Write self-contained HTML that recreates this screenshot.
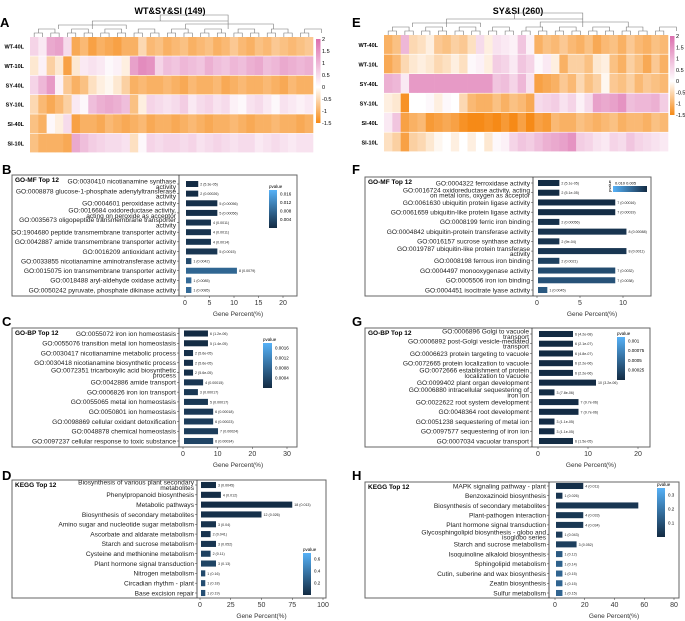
<!DOCTYPE html>
<html><head><meta charset="utf-8"><style>
html,body{margin:0;padding:0;background:#fff}
svg{display:block;font-family:"Liberation Sans",Arial,sans-serif}
</style></head><body>
<svg id="fig" width="685" height="621" viewBox="0 0 685 621" xmlns="http://www.w3.org/2000/svg">
<g font-weight="bold" font-size="13">
<text x="0" y="27">A</text><text x="352" y="27">E</text>
<text x="2" y="174">B</text><text x="352" y="174">F</text>
<text x="2" y="326">C</text><text x="352" y="326">G</text>
<text x="2" y="480">D</text><text x="352" y="480">H</text>
</g>
<text x="170" y="14" font-size="9" font-weight="bold" text-anchor="middle">WT&amp;SY&amp;SI (149)</text>
<text x="518" y="14" font-size="9" font-weight="bold" text-anchor="middle">SY&amp;SI (260)</text>
</svg>
<script>
const rowNames=["WT-40L","WT-10L","SY-40L","SY-10L","SI-40L","SI-10L"];
const heatA=[
[0.6,0.3,1.2,1.3,0.5,-1.1,-0.9,-1.2,-1.0,-1.1,-1.2,-1.0,-1.0,-0.5,-0.9,-0.8,-1.0,-0.9,-0.8,-1.0,-0.9,-0.8,-1.0,-0.9,-0.7,-0.9,-1.0,-0.8,-0.9,-0.7,-0.8,-0.9,-0.8,-0.7],
[-0.3,0.2,-0.6,-0.3,-1.2,-0.3,0.3,0.4,0.3,0.1,0.2,-0.2,1.3,1.6,1.5,0.6,0.9,0.8,1.0,0.9,0.8,1.1,0.9,0.8,1.0,0.9,1.1,1.2,0.9,1.0,1.2,1.1,1.0,1.1],
[0.6,1.0,1.4,0.2,-0.7,-1.0,-0.8,-0.4,-0.2,-0.1,-0.3,-0.6,-1.0,-0.9,-1.0,-1.0,-0.9,-1.0,-1.1,-0.9,-1.0,-1.0,-0.9,-1.1,-1.0,-0.9,-1.0,-1.0,-0.9,-1.0,-1.1,-0.9,-1.0,-1.0],
[-0.5,-0.9,-1.1,-0.9,-0.6,0.3,0.1,0.9,1.1,1.2,1.1,0.9,-0.8,-0.2,0.6,0.5,0.4,0.5,0.7,0.3,0.5,0.6,0.4,0.5,0.2,0.1,0.4,0.5,0.3,0.1,0.4,0.3,0.2,0.3],
[-0.8,-1.0,0.1,-0.2,0.5,-1.2,-1.0,-1.0,-1.1,-0.9,-1.0,-1.1,-1.0,-0.9,-1.1,-1.0,-1.0,-1.1,-1.0,-0.9,-1.0,-1.1,-1.0,-1.0,-0.9,-1.0,-1.1,-1.0,-1.0,-0.9,-1.0,-1.0,-1.1,-1.0],
[-0.8,-1.0,-1.0,-1.0,-1.1,1.2,0.9,0.7,0.6,0.5,0.5,0.4,-0.4,0.1,0.6,0.5,0.6,0.6,0.5,0.6,0.4,0.5,0.6,0.5,0.4,0.5,0.5,0.3,0.4,0.5,0.4,0.3,0.4,0.4]];
const heatE=[
[-1.0,-0.8,1.0,-0.5,-0.4,-0.2,-0.7,-0.8,-0.6,-0.7,-0.4,0.5,-0.2,0.4,0.3,0.2,0.8,0.2,-1.0,-0.8,-0.9,-0.7,-0.9,-1.0,-0.8,-1.1,-0.9,-0.8,-1.0,-0.7,-0.9,-1.0,-0.8,-0.9],
[-1.1,-0.9,-0.5,-0.3,-0.2,-0.3,-0.5,-0.4,-0.2,-0.4,0.1,0.2,-0.2,0.7,0.6,0.3,0.8,0.6,0.1,0.3,-0.2,-1.0,-0.6,-0.6,-0.8,-0.3,-0.2,-0.8,-1.0,-0.6,-0.8,-1.1,-0.7,-1.0],
[1.1,1.0,0.3,1.4,1.4,1.4,1.4,1.4,1.4,1.4,1.4,1.4,1.4,0.8,0.9,0.6,1.0,0.4,-1.2,-1.1,-1.0,-0.7,-0.9,-0.5,-0.8,-0.6,-0.1,-0.7,-0.8,-0.6,-0.9,-0.7,-0.8,-0.9],
[-0.2,-0.3,-1.4,0.0,0.0,0.1,-0.2,0.1,0.0,-0.5,-0.9,-1.0,-1.0,-0.8,-1.0,-0.8,-0.9,-1.1,0.5,0.6,0.7,0.4,0.6,0.2,0.5,1.3,1.2,1.3,1.5,0.9,1.0,1.0,1.1,0.7],
[0.3,0.8,-1.2,-1.0,-0.9,-1.3,-1.2,-1.1,-1.2,-1.4,-1.5,-1.6,-1.4,-1.5,-1.3,-1.6,-1.2,-1.5,-1.2,-1.3,-0.9,-1.0,-1.0,-0.8,-0.9,-1.0,-0.9,-0.8,-1.0,-0.9,-0.9,-1.0,-0.8,-0.9],
[-0.4,-0.6,-1.2,-0.6,-0.5,-0.3,-0.1,0.0,-0.2,0.0,-0.2,0.0,-0.3,0.1,0.2,0.6,0.8,0.7,0.9,1.1,1.2,1.3,1.5,0.7,0.6,0.4,0.3,0.6,0.5,0.8,0.6,0.5,0.4,0.3]];
const heatTicks=["2","1.5","1","0.5","0","-0.5","-1","-1.5"];

// bar panels data
const bLabels=["GO:0030410 nicotianamine synthase\nactivity","GO:0008878 glucose-1-phosphate adenylyltransferase\nactivity","GO:0004601 peroxidase activity","GO:0016684 oxidoreductase activity,\nacting on peroxide as acceptor","GO:0035673 oligopeptide transmembrane transporter\nactivity","GO:1904680 peptide transmembrane transporter activity","GO:0042887 amide transmembrane transporter activity","GO:0016209 antioxidant activity","GO:0033855 nicotianamine aminotransferase activity","GO:0015075 ion transmembrane transporter activity","GO:0018488 aryl-aldehyde oxidase activity","GO:0050242 pyruvate, phosphate dikinase activity"];
const bValues=[2.7,2.7,6.6,6.6,5.3,5.3,5.3,6.6,1.3,10.6,1.3,1.3];
const bPvals=[0.000053,0.00026,0.00056,0.00056,0.0011,0.0011,0.0014,0.0015,0.0042,0.0079,0.0085,0.0085];
const bText=["2 (5.3e-05)","2 (0.00026)","5 (0.00056)","5 (0.00056)","4 (0.0011)","4 (0.0011)","4 (0.0014)","5 (0.0015)","1 (0.0042)","8 (0.0079)","1 (0.0085)","1 (0.0085)"];
const bTicks=[0,5,10,15,20];
const cLabels=["GO:0055072 iron ion homeostasis","GO:0055076 transition metal ion homeostasis","GO:0030417 nicotianamine metabolic process","GO:0030418 nicotianamine biosynthetic process","GO:0072351 tricarboxylic acid biosynthetic\nprocess","GO:0042886 amide transport","GO:0006826 iron ion transport","GO:0055065 metal ion homeostasis","GO:0050801 ion homeostasis","GO:0098869 cellular oxidant detoxification","GO:0048878 chemical homeostasis","GO:0097237 cellular response to toxic substance"];
const cValues=[7.2,7.2,2.9,2.9,2.9,5.8,4.3,7.2,8.7,8.7,10.1,8.7];
const cPvals=[0.0000012,0.000014,0.000056,0.000056,0.000056,0.00015,0.00017,0.00017,0.00018,0.00023,0.00024,0.00034];
const cText=["6 (1.2e-06)","5 (1.4e-05)","2 (5.6e-05)","2 (5.6e-05)","2 (5.6e-05)","4 (0.00015)","3 (0.00017)","5 (0.00017)","6 (0.00018)","6 (0.00023)","7 (0.00024)","6 (0.00034)"];
const cTicks=[0,10,20,30];
const dLabels=["Biosynthesis of various plant secondary\nmetabolites","Phenylpropanoid biosynthesis","Metabolic pathways","Biosynthesis of secondary metabolites","Amino sugar and nucleotide sugar metabolism","Ascorbate and aldarate metabolism","Starch and sucrose metabolism","Cysteine and methionine metabolism","Plant hormone signal transduction","Nitrogen metabolism","Circadian rhythm - plant","Base excision repair"];
const dValues=[13,17,75,50,13,8.6,13,8.6,13,4.3,4.3,4.3];
const dPvals=[0.0045,0.012,0.013,0.026,0.04,0.041,0.052,0.11,0.13,0.16,0.18,0.19];
const dText=["3 (0.0045)","4 (0.012)","18 (0.013)","12 (0.026)","3 (0.04)","2 (0.041)","3 (0.052)","2 (0.11)","3 (0.13)","1 (0.16)","1 (0.18)","1 (0.19)"];
const dTicks=[0,25,50,75,100];
const fLabels=["GO:0004322 ferroxidase activity","GO:0016724 oxidoreductase activity, acting\non metal ions, oxygen as acceptor","GO:0061630 ubiquitin protein ligase activity","GO:0061659 ubiquitin-like protein ligase activity","GO:0008199 ferric iron binding","GO:0004842 ubiquitin-protein transferase activity","GO:0016157 sucrose synthase activity","GO:0019787 ubiquitin-like protein transferase\nactivity","GO:0008198 ferrous iron binding","GO:0004497 monooxygenase activity","GO:0005506 iron ion binding","GO:0004451 isocitrate lyase activity"];
const fValues=[2.6,2.6,9.1,9.1,2.6,10.4,2.6,10.4,2.6,9.1,9.1,1.2];
const fPvals=[0.000051,0.000051,0.00016,0.00019,0.00056,0.00088,0.0009,0.0011,0.0021,0.0032,0.0038,0.0045];
const fText=["2 (5.1e-05)","2 (5.1e-05)","7 (0.00016)","7 (0.00019)","2 (0.00056)","8 (0.00088)","2 (9e-04)","8 (0.0011)","2 (0.0021)","7 (0.0032)","7 (0.0038)","1 (0.0045)"];
const fTicks=[0,5,10];
const gLabels=["GO:0006896 Golgi to vacuole\ntransport","GO:0006892 post-Golgi vesicle-mediated\ntransport","GO:0006623 protein targeting to vacuole","GO:0072665 protein localization to vacuole","GO:0072666 establishment of protein\nlocalization to vacuole","GO:0099402 plant organ development","GO:0006880 intracellular sequestering of\niron ion","GO:0022622 root system development","GO:0048364 root development","GO:0051238 sequestering of metal ion","GO:0097577 sequestering of iron ion","GO:0007034 vacuolar transport"];
const gValues=[7,7,7,7,7,11.6,3.3,8.1,8.1,3.3,3.3,7];
const gPvals=[4.2e-8,2.1e-7,4.8e-7,2.2e-6,2.2e-6,3.2e-6,7.8e-6,9.7e-6,9.7e-6,1.1e-5,1.1e-5,1.5e-5];
const gText=["6 (4.2e-08)","6 (2.1e-07)","6 (4.8e-07)","6 (2.2e-06)","6 (2.2e-06)","10 (3.2e-06)","3 (7.8e-06)","7 (9.7e-06)","7 (9.7e-06)","3 (1.1e-05)","3 (1.1e-05)","6 (1.5e-05)"];
const gTicks=[0,10,20];
const hLabels=["MAPK signaling pathway - plant","Benzoxazinoid biosynthesis","Biosynthesis of secondary metabolites","Plant-pathogen interaction","Plant hormone signal transduction","Glycosphingolipid biosynthesis - globo and\nisoglobo series","Starch and sucrose metabolism","Isoquinoline alkaloid biosynthesis","Sphingolipid metabolism","Cutin, suberine and wax biosynthesis","Zeatin biosynthesis","Sulfur metabolism"];
const hValues=[19,5,56,19,19,5,14.5,5,5,5,5,5];
const hPvals=[0.011,0.026,0.03,0.033,0.034,0.043,0.052,0.12,0.14,0.15,0.15,0.15];
const hText=["4 (0.011)","1 (0.026)","","4 (0.033)","4 (0.034)","1 (0.043)","3 (0.052)","1 (0.12)","1 (0.14)","1 (0.15)","1 (0.15)","1 (0.15)"];
const hTicks=[0,20,40,60,80];

const NS="http://www.w3.org/2000/svg";
const svg=document.getElementById('fig');
function mk(tag,attrs,parent,txt){const e=document.createElementNS(NS,tag);for(const k in attrs)e.setAttribute(k,attrs[k]);if(txt!==undefined)e.textContent=txt;(parent||svg).appendChild(e);return e;}
function mix(a,b,t){const p=s=>[1,3,5].map(i=>parseInt(s.substr(i,2),16));const A=p(a),B=p(b);return 'rgb('+A.map((v,i)=>Math.round(v+(B[i]-v)*t)).join(',')+')';}
function heatColor(v){if(v>=0)return mix('#ffffff','#dc6fae',Math.min(v/2,1));return mix('#ffffff','#f68a17',Math.min(-v/1.5,1));}

function heatmap(id,data,x0,x1,y0,y1,cbx,cby0,cby1){
  const g=mk('g',{});
  
  
  const nr=data.length,nc=data[0].length,cw=(x1-x0)/nc,rh=(y1-y0)/nr;
  data.forEach((row,r)=>{
    const lab=mk('text',{x:x0-6,y:y0+rh*r+rh/2+2,'font-size':5.5,'font-weight':'bold','text-anchor':'end'},g,rowNames[r]);
    
    
    row.forEach((v,c)=>{
      const cell=mk('rect',{x:x0+c*cw,y:y0+r*rh,width:cw+0.3,height:rh-0.6,fill:heatColor(v)},g);
      
      
    });
  });
  // dendrogram (decorative)
  const dg=mk('g',{stroke:'#777','stroke-width':0.6,fill:'none'},g);
  
  
  for(let c=0;c<nc;c+=2){const xa=x0+c*cw+cw/2,xb=xa+cw;mk('path',{d:`M${xa} ${y0} V${y0-4} H${xb} V${y0}`},dg);}
  for(let c=0;c<nc;c+=4){const xa=x0+c*cw+cw,xb=xa+2*cw;mk('path',{d:`M${xa} ${y0-4} V${y0-8} H${xb} V${y0-4}`},dg);}
  const mid=(x0+x1)/2;
  mk('path',{d:`M${x0+(x1-x0)*0.22} ${y0-8} V${y0-16} H${x0+(x1-x0)*0.7} V${y0-8} M${x0+(x1-x0)*0.1} ${y0-8} V${y0-12} H${x0+(x1-x0)*0.34} V${y0-8} M${x0+(x1-x0)*0.55} ${y0-8} V${y0-13} H${x0+(x1-x0)*0.86} V${y0-8} M${x0+(x1-x0)*0.46} ${y0-16} V${y0-22} H${x0+(x1-x0)*0.7} V${y0-16}`},dg);
  // colorbar
  const gid=id+'-grad';
  const defs=mk('defs',{},g);const lg=mk('linearGradient',{id:gid,x1:0,y1:0,x2:0,y2:1},defs);
  [2,1,0,-0.75,-1.5].forEach(v=>mk('stop',{offset:(2-v)/3.5,'stop-color':heatColor(v)},lg));
  const cb=mk('rect',{x:cbx,y:cby0,width:4.5,height:cby1-cby0,fill:`url(#${gid})`},g);
  
  
  heatTicks.forEach((t,i)=>{const v=parseFloat(t);const y=cby0+(2-v)/3.5*(cby1-cby0);
    const tt=mk('text',{x:cbx+6,y:y+2,'font-size':5.5},g,t);
    
    });
}
heatmap('heatmap-a',heatA,30,313,37,153,316,39,123);
heatmap('heatmap-e',heatE,384,668,35,152,670,36,115);

function barPanel(o){
  const g=mk('g',{});
  
  
  const box=mk('rect',{x:o.bx0,y:o.by0,width:o.bx1-o.bx0,height:o.by1-o.by0,fill:'none',stroke:'#666','stroke-width':1},g);
  
  
  mk('line',{x1:o.sep,x2:o.sep,y1:o.by0,y2:o.by1,stroke:'#333','stroke-width':0.8},g);
  const ttl=mk('text',{x:o.bx0+3,y:o.by0+7,'font-size':6.5,'font-weight':'bold'},g,o.title);
  
  
  const xs=v=>o.x0+(v-o.tmin)/(o.tmax-o.tmin)*(o.xmaxPx-o.x0);
  const n=o.labels.length,step=(o.ylast-o.yfirst)/(n-1),ys=i=>o.yfirst+i*step;
  const bh=step*0.62;
  o.labels.forEach((l,i)=>{
    const lines=l.split('\n');const y=ys(i);
    const t=mk('text',{'font-size':6.6,'text-anchor':'end',fill:'#222'},g);
    
    
    lines.forEach((ln,k)=>{mk('tspan',{x:o.sep-3,y:y+2.3+(k-(lines.length-1)/2)*5.2},t,ln);});
    mk('line',{x1:o.sep-2,x2:o.sep,y1:y,y2:y,stroke:'#333','stroke-width':0.5},g);
    const tcol=Math.min(o.p[i]/o.pmax,1);
    const bar=mk('rect',{x:o.x0+1,y:y-bh/2,width:Math.max(xs(o.values[i])-o.x0-1,0),height:bh,fill:mix('#132b43','#56b1f7',tcol)},g);
    
    
    if(o.txt[i]){const vt=mk('text',{x:xs(o.values[i])+2,y:y+1.5,'font-size':3.6,fill:'#222'},g,o.txt[i]);
      
      }
  });
  o.ticks.forEach(t=>{const x=xs(t);
    mk('line',{x1:x,x2:x,y1:o.by1,y2:o.by1+2,stroke:'#333','stroke-width':0.5},g);
    const tl=mk('text',{x:x,y:o.by1+9,'font-size':7,'text-anchor':'middle',fill:'#333'},g,t);
    
    });
  const xl=mk('text',{x:(o.sep+o.bx1)/2,y:o.by1+20,'font-size':6.5,'text-anchor':'middle',fill:'#333'},g,'Gene Percent(%)');
  
  
  // legend colorbar
  const gid=o.name+'-cb';const defs=mk('defs',{},g);
  const c=o.cb;
  const lg=mk('linearGradient',c.horiz?{id:gid,x1:0,y1:0,x2:1,y2:0}:{id:gid,x1:0,y1:0,x2:0,y2:1},defs);
  mk('stop',{offset:0,'stop-color':'#56b1f7'},lg);mk('stop',{offset:1,'stop-color':'#132b43'},lg);
  const lr=mk('rect',{x:c.x,y:c.y,width:c.w,height:c.h,fill:`url(#${gid})`},g);
  
  
  if(c.horiz){
    mk('text',{x:c.x+2,y:c.y-1.5,'font-size':4},g,'0.010  0.005');
    mk('text',{x:c.x-2,y:c.y+6,'font-size':4,transform:`rotate(-90 ${c.x-2} ${c.y+6})`},g,'pvalue');
  } else {
    mk('text',{x:c.x,y:c.y-2,'font-size':4.5},g,'pvalue');
    c.ticks.forEach(tk=>{const y=c.y+c.h*(1-tk/c.max);
      mk('text',{x:c.x+c.w+3,y:y+1.5,'font-size':4.5},g,String(tk));});
  }
}
barPanel({name:'panel-b-go-mf',title:'GO-MF Top 12',bx0:12,bx1:297,by0:175,by1:296,sep:179,x0:185,xmaxPx:283,tmin:0,tmax:20,yfirst:184,ylast:290,labels:bLabels,values:bValues,p:bPvals,pmax:0.018,txt:bText,ticks:bTicks,cb:{x:269,y:190,w:8,h:38,max:0.018,ticks:[0.016,0.012,0.008,0.004]}});
barPanel({name:'panel-c-go-bp',title:'GO-BP Top 12',bx0:12,bx1:297,by0:328,by1:447,sep:179,x0:183,xmaxPx:287,tmin:0,tmax:30,yfirst:333.5,ylast:441,labels:cLabels,values:cValues,p:cPvals,pmax:0.0018,txt:cText,ticks:cTicks,cb:{x:263,y:343,w:9,h:45,max:0.0018,ticks:[0.0016,0.0012,0.0008,0.0004]}});
barPanel({name:'panel-d-kegg',title:'KEGG Top 12',bx0:12,bx1:326,by0:480,by1:598,sep:197,x0:200,xmaxPx:323,tmin:0,tmax:100,yfirst:485,ylast:593,labels:dLabels,values:dValues,p:dPvals,pmax:0.7,txt:dText,ticks:dTicks,cb:{x:303,y:553,w:8,h:42,max:0.7,ticks:[0.6,0.4,0.2]}});
barPanel({name:'panel-f-go-mf',title:'GO-MF Top 12',bx0:365,bx1:651,by0:177,by1:296,sep:533,x0:537,xmaxPx:623,tmin:0,tmax:10,yfirst:183,ylast:290,labels:fLabels,values:fValues,p:fPvals,pmax:0.013,txt:fText,ticks:fTicks,cb:{horiz:true,x:613,y:186,w:34,h:6}});
barPanel({name:'panel-g-go-bp',title:'GO-BP Top 12',bx0:365,bx1:650,by0:328,by1:447,sep:532,x0:538,xmaxPx:638,tmin:0,tmax:20,yfirst:334,ylast:441,labels:gLabels,values:gValues,p:gPvals,pmax:0.0011,txt:gText,ticks:gTicks,cb:{x:617,y:337,w:8,h:43,max:0.0011,ticks:[0.001,0.00075,0.0005,0.00025]}});
barPanel({name:'panel-h-kegg',title:'KEGG Top 12',bx0:365,bx1:679,by0:482,by1:598,sep:549,x0:555,xmaxPx:674,tmin:0,tmax:80,yfirst:486,ylast:593,labels:hLabels,values:hValues,p:hPvals,pmax:0.35,txt:hText,ticks:hTicks,cb:{x:657,y:488,w:8,h:49,max:0.35,ticks:[0.3,0.2,0.1]}});
</script>
</body></html>
